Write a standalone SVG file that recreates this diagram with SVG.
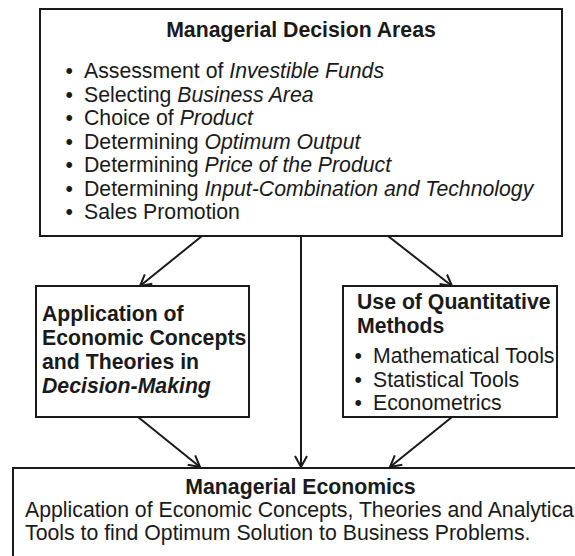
<svg xmlns="http://www.w3.org/2000/svg" width="575" height="556" viewBox="0 0 575 556">
<style>
  .box { fill: #ffffff; stroke: #1a1a1a; stroke-width: 2; }
  .t { font-family: "Liberation Sans", Arial, sans-serif; font-size: 21.25px; fill: #1a1a1a; }
  .b { font-weight: bold; }
  .i { font-style: italic; }
  .conn { stroke: #1a1a1a; stroke-width: 2; fill: none; marker-end: url(#arr); }
</style>
<defs>
  <marker id="arr" markerUnits="userSpaceOnUse" markerWidth="16" markerHeight="16" viewBox="0 0 16 16" refX="14" refY="8" orient="auto">
    <path d="M3,2 L14,8 L3,14" fill="none" stroke="#1a1a1a" stroke-width="2"/>
  </marker>
</defs>
<rect width="575" height="556" fill="#ffffff"/>

<g id="connectors">
  <line class="conn" x1="202" y1="236" x2="140" y2="286"/>
  <line class="conn" x1="301" y1="236" x2="301" y2="467"/>
  <line class="conn" x1="388" y1="236" x2="452" y2="286"/>
  <line class="conn" x1="138" y1="417" x2="200" y2="467"/>
  <line class="conn" x1="452" y1="417" x2="390" y2="467"/>
</g>

<g id="decision-areas">
  <rect class="box" x="40" y="9" width="522" height="227"/>
  <text class="t b" x="301" y="37" text-anchor="middle">Managerial Decision Areas</text>
  <text class="t" x="65.5" y="78.3">•</text>
  <text class="t" x="84" y="78.3">Assessment of <tspan class="i">Investible Funds</tspan></text>
  <text class="t" x="65.5" y="101.8">•</text>
  <text class="t" x="84" y="101.8">Selecting <tspan class="i">Business Area</tspan></text>
  <text class="t" x="65.5" y="125.2">•</text>
  <text class="t" x="84" y="125.2">Choice of <tspan class="i">Product</tspan></text>
  <text class="t" x="65.5" y="148.6">•</text>
  <text class="t" x="84" y="148.6">Determining <tspan class="i">Optimum Output</tspan></text>
  <text class="t" x="65.5" y="172.1">•</text>
  <text class="t" x="84" y="172.1">Determining <tspan class="i">Price of the Product</tspan></text>
  <text class="t" x="65.5" y="195.5">•</text>
  <text class="t" x="84" y="195.5">Determining <tspan class="i">Input-Combination and Technology</tspan></text>
  <text class="t" x="65.5" y="219">•</text>
  <text class="t" x="84" y="219">Sales Promotion</text>
</g>

<g id="economic-concepts">
  <rect class="box" x="36" y="286" width="213" height="131"/>
  <text class="t b" x="42" y="321">Application of</text>
  <text class="t b" x="42" y="345">Economic Concepts</text>
  <text class="t b" x="42" y="369">and Theories in</text>
  <text class="t b i" x="42" y="393">Decision-Making</text>
</g>

<g id="quantitative-methods">
  <rect class="box" x="343" y="286" width="214" height="131"/>
  <text class="t b" x="357" y="309">Use of Quantitative</text>
  <text class="t b" x="357" y="333">Methods</text>
  <text class="t" x="354.5" y="363">•</text>
  <text class="t" x="373" y="363">Mathematical Tools</text>
  <text class="t" x="354.5" y="387">•</text>
  <text class="t" x="373" y="387">Statistical Tools</text>
  <text class="t" x="354.5" y="410">•</text>
  <text class="t" x="373" y="410">Econometrics</text>
</g>

<g id="managerial-economics">
  <rect class="box" x="13" y="468" width="580" height="110"/>
  <text class="t b" x="300.5" y="494" text-anchor="middle">Managerial Economics</text>
  <text class="t" x="25" y="517">Application of Economic Concepts, Theories and Analytical</text>
  <text class="t" x="25" y="540">Tools to find Optimum Solution to Business Problems.</text>
</g>
</svg>
